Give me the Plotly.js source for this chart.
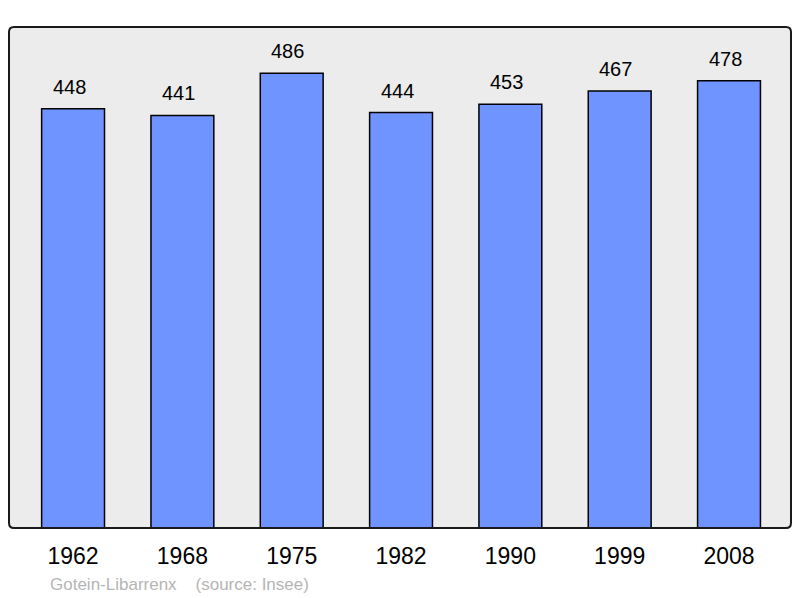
<!DOCTYPE html>
<html>
<head>
<meta charset="utf-8">
<script src="https://cdn.plot.ly/plotly-3.0.1.min.js"></script>
<style>
  html, body { margin: 0; padding: 0; background: #ffffff; }
  #chart { width: 800px; height: 598px; }
</style>
</head>
<body>
<div id="chart"></div>
<script>
const years = ['1962', '1968', '1975', '1982', '1990', '1999', '2008'];
const population = [448, 441, 486, 444, 453, 467, 478];
const sourceNote = 'Gotein-Libarrenx    (source: Insee)';

const FONT = '"Liberation Sans", Arial, sans-serif';

// rounded frame around the plot area, in paper units
function roundedFrame(w, h, r) {
  const rx = r / w, ry = r / h;
  return `M ${rx},0 L ${1 - rx},0 Q 1,0 1,${ry} L 1,${1 - ry} Q 1,1 ${1 - rx},1 ` +
         `L ${rx},1 Q 0,1 0,${1 - ry} L 0,${ry} Q 0,0 ${rx},0 Z`;
}

const idx = years.map((_, i) => i);

const trace = {
  type: 'bar',
  x: idx,
  y: population,
  width: 0.575,
  marker: { color: '#7094ff', line: { color: '#000000', width: 1.5 } },
  hoverinfo: 'skip',
};

const labels = population.map((v, i) => ({
  x: i, y: v, text: String(v), showarrow: false,
  yanchor: 'bottom', yshift: 9, xshift: -4,
  font: { family: FONT, size: 20, color: '#000000' },
}));

const layout = {
  width: 800, height: 598,
  margin: { l: 9, r: 9, t: 27, b: 70 },
  paper_bgcolor: '#ffffff',
  plot_bgcolor: '#ececec',
  showlegend: false,
  font: { family: FONT, color: '#000000' },
  xaxis: {
    range: [-0.586, 6.567],
    tickvals: idx, ticktext: years,
    showgrid: false, zeroline: false, showline: false,
    ticks: '', ticklabelstandoff: 12,
    tickfont: { family: FONT, size: 23, color: '#000000' },
    fixedrange: true,
  },
  yaxis: {
    range: [0, 535.5],
    showgrid: false, zeroline: false, showline: false,
    showticklabels: false, ticks: '', fixedrange: true,
  },
  annotations: labels.concat([{
    xref: 'paper', yref: 'paper', x: 0.05, y: -0.112,
    xanchor: 'left', yanchor: 'middle', showarrow: false,
    text: sourceNote,
    font: { family: FONT, size: 17, color: '#b5b5b5' },
  }]),
  shapes: [{
    type: 'path', xref: 'paper', yref: 'paper', layer: 'above',
    path: roundedFrame(782, 501, 5),
    line: { color: '#1a1a1a', width: 2 },
  }],
};

Plotly.newPlot('chart', [trace], layout, { displayModeBar: false, staticPlot: true });
</script>
</body>
</html>
